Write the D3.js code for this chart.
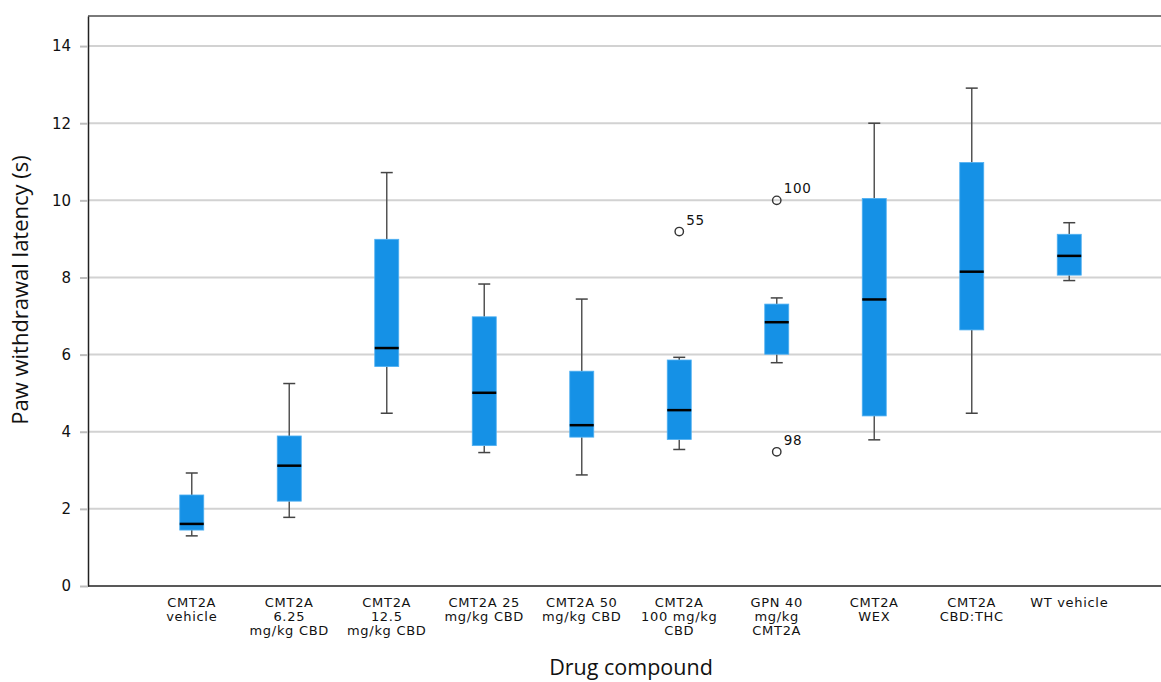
<!DOCTYPE html>
<html>
<head>
<meta charset="utf-8">
<script src="https://cdn.jsdelivr.net/npm/d3@7"></script>
<style>
  html, body { margin: 0; padding: 0; background: #fff; }
  svg { display: block; }
  text { font-family: "DejaVu Sans", sans-serif; fill: #111; }
  .axis-title { font-family: "Open Sans", sans-serif; }
</style>
</head>
<body>
<svg id="chart" width="1161" height="682"></svg>
<script>
// Category labels (each entry holds the wrapped lines)
const categories = [
  ["CMT2A", "vehicle"],
  ["CMT2A", "6.25", "mg/kg CBD"],
  ["CMT2A", "12.5", "mg/kg CBD"],
  ["CMT2A 25", "mg/kg CBD"],
  ["CMT2A 50", "mg/kg CBD"],
  ["CMT2A", "100 mg/kg", "CBD"],
  ["GPN 40", "mg/kg", "CMT2A"],
  ["CMT2A", "WEX"],
  ["CMT2A", "CBD:THC"],
  ["WT vehicle"]
];

// Five-number summaries per group
const whiskerLow  = [1.30, 1.78, 4.48, 3.46, 2.88, 3.54, 5.79, 3.79, 4.48, 7.92];
const q1          = [1.45, 2.20, 5.69, 3.64, 3.86, 3.80, 6.01, 4.41, 6.64, 8.06];
const median      = [1.61, 3.12, 6.17, 5.01, 4.17, 4.56, 6.84, 7.43, 8.15, 8.56];
const q3          = [2.36, 3.89, 8.99, 6.98, 5.57, 5.86, 7.31, 10.05, 10.98, 9.12];
const whiskerHigh = [2.93, 5.25, 10.72, 7.83, 7.44, 5.93, 7.47, 12.00, 12.91, 9.42];

// Outlying observations: group index, value, case label
const outlierGroup = [5, 6, 6];
const outlierValue = [9.19, 10.00, 3.48];
const outlierLabel = ["55", "100", "98"];

const yTicks = [0, 2, 4, 6, 8, 10, 12, 14];

const svg = d3.select("#chart");
const plot = { left: 88, top: 16, right: 1161, bottom: 586 };

const ids = categories.map((_, i) => i);
const x = d3.scaleBand()
  .domain(ids)
  .range([143, 1118])
  .paddingInner(0.76)
  .paddingOuter(0.38);

const y = d3.scaleLinear()
  .domain([0, 14.78])
  .range([plot.bottom, plot.top]);

const cx = i => x(i) + x.bandwidth() / 2;
const boxW = 24;
const capW = 12;

// Horizontal grid lines
svg.append("g")
  .selectAll("line")
  .data(yTicks.filter(t => t > 0))
  .join("line")
  .attr("x1", plot.left).attr("x2", plot.right)
  .attr("y1", d => y(d)).attr("y2", d => y(d))
  .attr("stroke", "#d2d2d2")
  .attr("stroke-width", 2);

// Top frame line
svg.append("line")
  .attr("x1", plot.left).attr("x2", plot.right)
  .attr("y1", plot.top).attr("y2", plot.top)
  .attr("stroke", "#7a7a7a").attr("stroke-width", 2);

// Y axis
const yAxis = svg.append("g")
  .attr("transform", `translate(${plot.left},0)`)
  .call(d3.axisLeft(y).tickValues(yTicks).tickSize(8).tickSizeOuter(0)
    .tickPadding(9).tickFormat(d3.format("d")));
yAxis.select(".domain").attr("stroke", "#222").attr("stroke-width", 1.5);
yAxis.selectAll(".tick line").attr("stroke", "#bdbdbd").attr("stroke-width", 2);
yAxis.selectAll(".tick text")
  .style("font-family", "DejaVu Sans, sans-serif")
  .style("font-size", "15px").attr("fill", "#111");

// Bottom axis line
svg.append("line")
  .attr("x1", plot.left).attr("x2", plot.right)
  .attr("y1", plot.bottom).attr("y2", plot.bottom)
  .attr("stroke", "#222").attr("stroke-width", 1.5);

// Category labels
const xl = svg.append("g");
categories.forEach((lines, i) => {
  const t = xl.append("text")
    .attr("x", cx(i))
    .attr("y", 607)
    .attr("text-anchor", "middle")
    .style("font-size", "13px")
    .style("letter-spacing", "0.7px");
  lines.forEach((ln, k) => {
    t.append("tspan").attr("x", cx(i)).attr("dy", k === 0 ? 0 : 14).text(ln);
  });
});

// Boxes
const g = svg.append("g");
ids.forEach(i => {
  const c = cx(i);
  // whisker stems
  g.append("line")
    .attr("x1", c).attr("x2", c)
    .attr("y1", y(whiskerHigh[i])).attr("y2", y(q3[i]))
    .attr("stroke", "#555").attr("stroke-width", 1.5);
  g.append("line")
    .attr("x1", c).attr("x2", c)
    .attr("y1", y(q1[i])).attr("y2", y(whiskerLow[i]))
    .attr("stroke", "#555").attr("stroke-width", 1.5);
  // caps
  [whiskerHigh[i], whiskerLow[i]].forEach(v => {
    g.append("line")
      .attr("x1", c - capW / 2).attr("x2", c + capW / 2)
      .attr("y1", y(v)).attr("y2", y(v))
      .attr("stroke", "#444").attr("stroke-width", 1.5);
  });
  // box
  g.append("rect")
    .attr("x", c - boxW / 2)
    .attr("width", boxW)
    .attr("y", y(q3[i]))
    .attr("height", y(q1[i]) - y(q3[i]))
    .attr("fill", "#1591e6")
    .attr("stroke", "#4fb0f2")
    .attr("stroke-width", 0.8);
  // median
  g.append("line")
    .attr("x1", c - boxW / 2).attr("x2", c + boxW / 2)
    .attr("y1", y(median[i])).attr("y2", y(median[i]))
    .attr("stroke", "#000").attr("stroke-width", 2.5);
});

// Outliers with case labels
outlierValue.forEach((v, k) => {
  const c = cx(outlierGroup[k]);
  g.append("circle")
    .attr("cx", c).attr("cy", y(v)).attr("r", 4.2)
    .attr("fill", "none").attr("stroke", "#333").attr("stroke-width", 1.4);
  g.append("text")
    .attr("x", c + 7).attr("y", y(v) - 7)
    .style("font-size", "13.5px")
    .style("letter-spacing", "0.7px")
    .text(outlierLabel[k]);
});

// Axis titles
svg.append("text")
  .attr("class", "axis-title")
  .attr("transform", "translate(28,290) rotate(-90)")
  .attr("text-anchor", "middle")
  .style("font-size", "22px")
  .text("Paw withdrawal latency (s)");

svg.append("text")
  .attr("class", "axis-title")
  .attr("x", 631).attr("y", 675)
  .attr("text-anchor", "middle")
  .style("font-size", "21.5px")
  .text("Drug compound");
</script>
</body>
</html>
